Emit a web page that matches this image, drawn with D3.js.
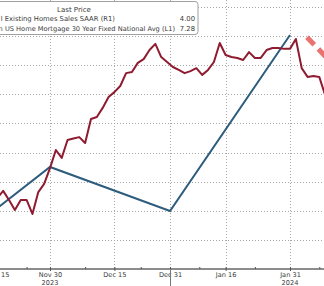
<!DOCTYPE html>
<html>
<head>
<meta charset="utf-8">
<script src="https://cdn.jsdelivr.net/npm/d3@7"></script>
<style>
  body { margin: 0; background: #fff; overflow: hidden; }
  text { font-family: "DejaVu Sans", Verdana, sans-serif; fill: #3a3a3a; }
</style>
</head>
<body>
<svg id="canvas"></svg>
<script>
// x is counted in business days, 0 = Nov 30 2023
let rateStart = -10;
let rateValues = [
  7.17, 7.155, 7.131, 7.162, 7.196, 7.162, 7.162, 7.21, 7.135, 7.107,
  7.053, 6.991, 7.018, 6.957, 6.952, 6.947, 6.967, 6.885, 6.878, 6.847,
  6.81, 6.793, 6.772, 6.728, 6.724, 6.693, 6.68, 6.649, 6.628, 6.673,
  6.69, 6.707, 6.717, 6.728, 6.721, 6.711, 6.734, 6.717, 6.69, 6.625,
  6.666, 6.673, 6.676, 6.683, 6.656, 6.676, 6.676, 6.649, 6.642, 6.642,
  6.645, 6.645, 6.611, 6.711, 6.741, 6.738, 6.741, 6.803
];

let salesDays = [-21, 0, 20.5, 41];
let salesValues = [3.715, 3.835, 3.78, 4.0];

let tickDays = [-9, 0, 11, 20.5, 30, 41];
let tickLabels = ["Nov 15", "Nov 30", "Dec 15", "Dec 31", "Jan 16", "Jan 31"];
let minorDays = [-4, 6, 15.5, 25.5, 35, 46];
let yearDays = [0, 41];
let yearLabels = ["2023", "2024"];
let yearBreak = 20.5;

// red dashed trend arrow
let trendDays = [43.9, 47.4];
let trendRates = [6.605, 6.678];

let legendRows = [
  { name: "l Existing Homes Sales SAAR  (R1)", value: "4.00", size: 6.8 },
  { name: "n US Home Mortgage 30 Year Fixed National Avg  (L1)", value: "7.28", size: 6.65 }
];

let width = 324;
let height = 286;
let axisY = 269;

let canvas = d3.select("#canvas").attr("width", width).attr("height", height);

let xScale = d3.scaleLinear().domain([0, 41]).range([50, 290]);
// mortgage rate axis is inverted
let yLeft = d3.scaleLinear().domain([6.5, 7.4]).range([6.5, axisY + 0.5]);
let yRight = d3.scaleLinear().domain([3.78, 4.0]).range([211, 35]);

// grid
let grid = canvas.append("g");
grid.selectAll(".hgrid")
  .data(d3.range(6.5, 7.35, 0.1))
  .enter()
  .append("line")
  .attr("x1", 0).attr("x2", width)
  .attr("y1", (d) => Math.round(yLeft(d)) + 0.5).attr("y2", (d) => Math.round(yLeft(d)) + 0.5)
  .attr("stroke", "#a8a8a8").attr("stroke-dasharray", "1,2");
grid.selectAll(".vgrid")
  .data(tickDays)
  .enter()
  .append("line")
  .attr("x1", (d) => Math.round(xScale(d)) + 0.5).attr("x2", (d) => Math.round(xScale(d)) + 0.5)
  .attr("y1", 0).attr("y2", axisY)
  .attr("stroke", "#a8a8a8").attr("stroke-dasharray", "1,2");

// lines
let salesLine = d3.line()
  .x((d, i) => xScale(salesDays[i]))
  .y((d) => yRight(d));
canvas.append("path")
  .datum(salesValues)
  .attr("d", salesLine)
  .attr("fill", "none")
  .attr("stroke", "#2d5c7c")
  .attr("stroke-width", 2);

let rateLine = d3.line()
  .x((d, i) => xScale(rateStart + i))
  .y((d) => yLeft(d));
canvas.append("path")
  .datum(rateValues)
  .attr("d", rateLine)
  .attr("fill", "none")
  .attr("stroke", "#8e1b30")
  .attr("stroke-width", 2)
  .attr("stroke-linejoin", "round");

let trendLine = d3.line()
  .x((d, i) => xScale(trendDays[i]))
  .y((d) => yLeft(d));
canvas.append("path")
  .datum(trendRates)
  .attr("d", trendLine)
  .attr("fill", "none")
  .attr("stroke", "#e0443f")
  .attr("stroke-opacity", 0.75)
  .attr("stroke-width", 5)
  .attr("stroke-dasharray", "10.5,6");

// x axis
let xAxis = d3.axisBottom(xScale)
  .tickValues(tickDays)
  .tickFormat((d, i) => tickLabels[i])
  .tickSizeInner(2)
  .tickSizeOuter(0)
  .tickPadding(1.5);
let axisG = canvas.append("g")
  .attr("transform", "translate(0, " + axisY + ")")
  .call(xAxis);
axisG.select(".domain").attr("stroke", "#8c8c8c").attr("stroke-width", 2)
  .attr("d", "M0,0H" + width);
axisG.selectAll(".tick line").attr("stroke", "#555").attr("y1", -2);
axisG.selectAll(".tick text")
  .style("font-family", "'DejaVu Sans', Verdana, sans-serif")
  .attr("font-size", 6.6).attr("fill", "#3a3a3a");

let minorAxis = d3.axisBottom(xScale)
  .tickValues(minorDays)
  .tickFormat("")
  .tickSize(0);
let minorG = canvas.append("g")
  .attr("transform", "translate(0, " + axisY + ")")
  .call(minorAxis);
minorG.select(".domain").remove();
minorG.selectAll(".tick line").attr("stroke", "#555").attr("y1", -2).attr("y2", 0);

canvas.selectAll(".year")
  .data(yearLabels)
  .enter()
  .append("text")
  .attr("x", (d, i) => xScale(yearDays[i]))
  .attr("y", 285)
  .attr("text-anchor", "middle")
  .attr("font-size", 6.6)
  .text((d) => d);

canvas.append("line")
  .attr("x1", Math.round(xScale(yearBreak)) + 0.5).attr("x2", Math.round(xScale(yearBreak)) + 0.5)
  .attr("y1", axisY).attr("y2", height)
  .attr("stroke", "#777");

// legend
let legend = canvas.append("g");
legend.append("rect")
  .attr("x", -6).attr("y", 1.5)
  .attr("width", 204).attr("height", 33)
  .attr("rx", 3)
  .attr("fill", "#fff")
  .attr("stroke", "#a0a0a0");
legend.append("text")
  .attr("x", 74).attr("y", 12)
  .attr("text-anchor", "middle")
  .attr("font-size", 7)
  .text("Last Price");
legend.selectAll(".lname")
  .data(legendRows)
  .enter()
  .append("text")
  .attr("x", (d, i) => (i == 0 ? 115 : 175))
  .attr("y", (d, i) => 21 + i * 10)
  .attr("text-anchor", "end")
  .attr("font-size", (d) => d.size)
  .text((d) => d.name);
legend.selectAll(".lval")
  .data(legendRows)
  .enter()
  .append("text")
  .attr("x", 195)
  .attr("y", (d, i) => 21 + i * 10)
  .attr("text-anchor", "end")
  .attr("font-size", 6.8)
  .text((d) => d.value);
</script>
</body>
</html>
